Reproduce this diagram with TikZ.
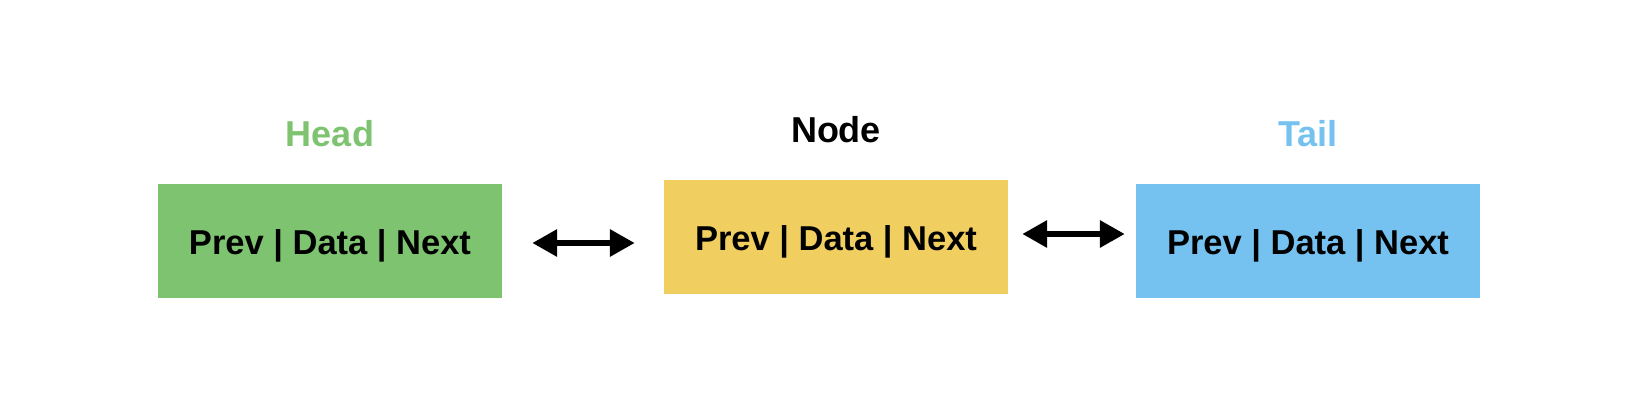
\documentclass[tikz,border=0pt]{standalone}
\usepackage{fontspec}
\setmainfont{Liberation Sans}
\usetikzlibrary{arrows.meta}
\definecolor{headgreen}{RGB}{125,195,112}
\definecolor{nodeyellow}{RGB}{240,206,96}
\definecolor{tailblue}{RGB}{117,194,240}
\tikzset{
  cell/.style={minimum width=344pt, minimum height=114pt, inner sep=0pt,
    font=\fontsize{34.5}{40}\selectfont\bfseries},
  title/.style={font=\fontsize{36}{42}\selectfont\bfseries},
  link/.style={line width=6.5pt, {Triangle[length=25pt,width=26pt]}-{Triangle[length=25pt,width=26pt]}}
}
\newcommand{\cellcontent}{\raisebox{-14pt}[0pt][0pt]{Prev | Data | Next}}
\begin{document}
\begin{tikzpicture}[x=1pt,y=1pt]
      \useasboundingbox (0,0) rectangle (1640,404);

      \node[cell, fill=headgreen] (head) at (330,163) {\cellcontent};
      \node[cell, fill=nodeyellow] (mid) at (836,167) {\cellcontent};
      \node[cell, fill=tailblue] (tail) at (1308,163) {\cellcontent};

      \node[title, text=headgreen] (headlabel) at (330,270) {Head};
      \node[title] (midlabel) at (836,274) {Node};
      \node[title, text=tailblue] (taillabel) at (1308,270) {Tail};

      \draw[link, shorten <=30pt, shorten >=29pt] ([yshift=-2pt]head.east) -- ([yshift=-6pt]mid.west);
      \draw[link, shorten <=14pt, shorten >=11pt] ([yshift=3pt]mid.east) -- ([yshift=7pt]tail.west);
    \end{tikzpicture}
\end{document}
